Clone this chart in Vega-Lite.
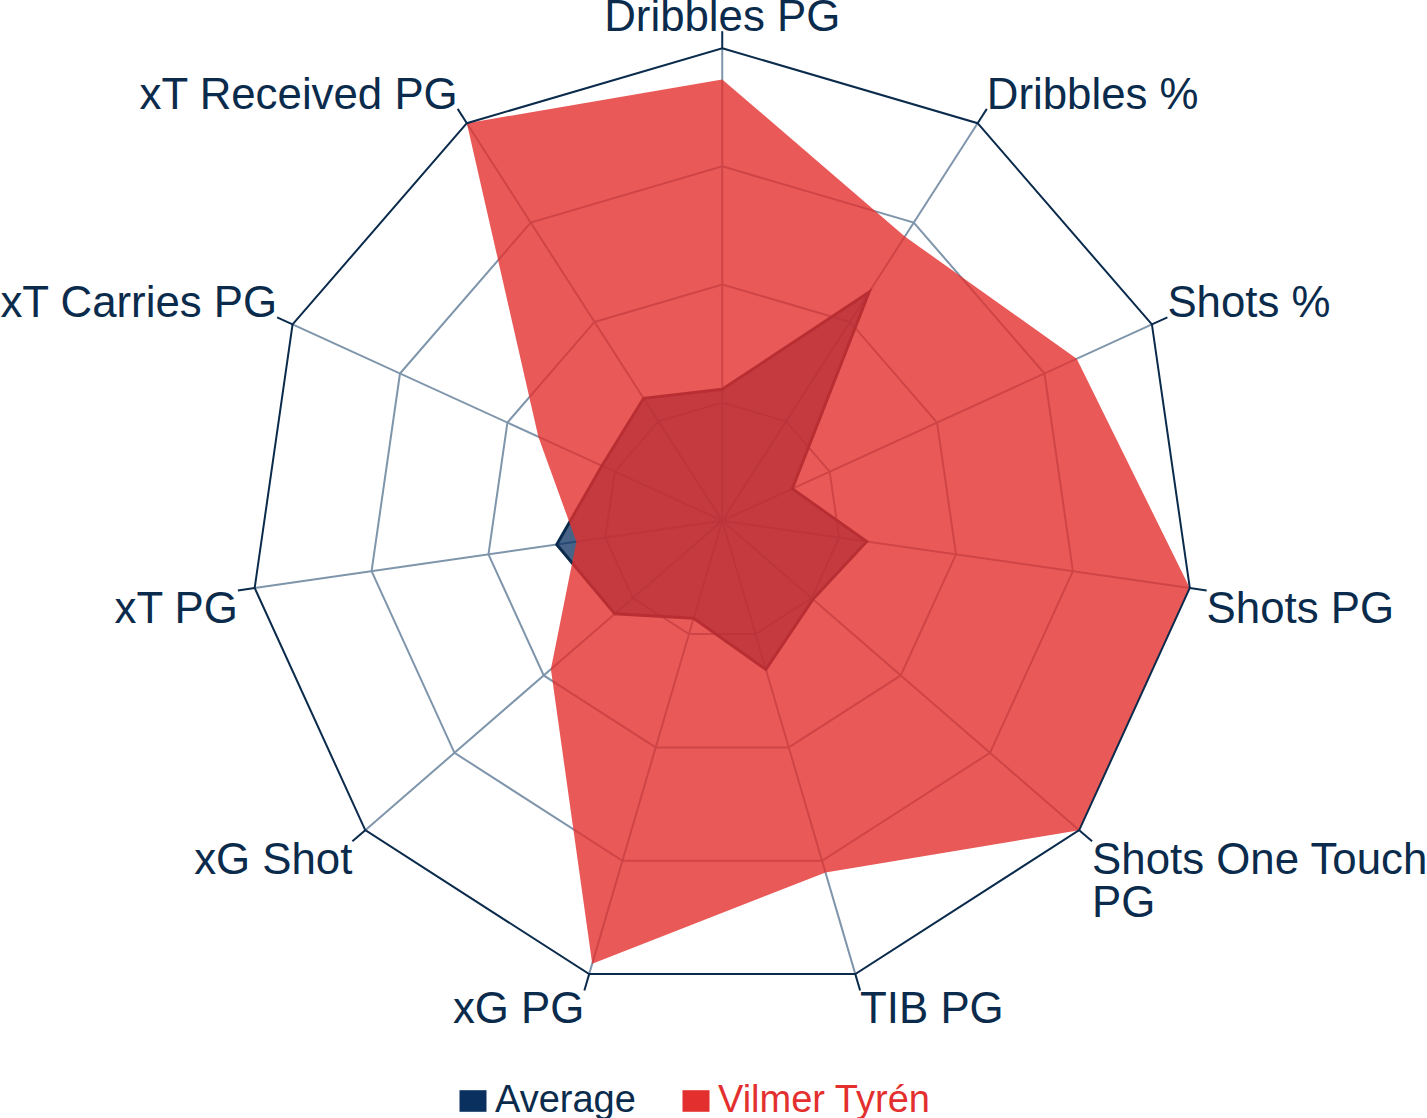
{
  "$schema": "https://vega.github.io/schema/vega-lite/v6.json",
  "description": "Radar chart: Vilmer Tyrén against the average, percentile per metric.",
  "width": 1427,
  "height": 1118,
  "autosize": {"type": "none"},
  "padding": 0,
  "config": {"view": {"stroke": null}, "font": "Liberation Sans"},
  "datasets": {
    "stats": [
      {"metric": "Dribbles PG", "Average": 27.8, "Vilmer Tyrén": 93.4},
      {"metric": "Dribbles %", "Average": 57.5, "Vilmer Tyrén": 71.5},
      {"metric": "Shots %", "Average": 16.3, "Vilmer Tyrén": 82.5},
      {"metric": "Shots PG", "Average": 30.9, "Vilmer Tyrén": 100},
      {"metric": "Shots One Touch PG", "Average": 25.4, "Vilmer Tyrén": 100},
      {"metric": "TIB PG", "Average": 32.8, "Vilmer Tyrén": 77.6},
      {"metric": "xG PG", "Average": 21.5, "Vilmer Tyrén": 97.7},
      {"metric": "xG Shot", "Average": 30.1, "Vilmer Tyrén": 48},
      {"metric": "xT PG", "Average": 35.4, "Vilmer Tyrén": 31.2},
      {"metric": "xT Carries PG", "Average": 28, "Vilmer Tyrén": 42.8},
      {"metric": "xT Received PG", "Average": 30.8, "Vilmer Tyrén": 100}
    ]
  },
  "data": {"name": "stats"},
  "transform": [
    {"window": [{"op": "row_number", "as": "idx"}]},
    {"calculate": "(datum.idx - 1) * 2 * PI / 11", "as": "angle"}
  ],
  "encoding": {
    "x": {"field": "x", "type": "quantitative", "axis": null,
          "scale": {"domain": [-152.9, 149.2], "nice": false, "zero": false}},
    "y": {"field": "y", "type": "quantitative", "axis": null,
          "scale": {"domain": [-126.4, 110.2], "nice": false, "zero": false}}
  },
  "layer": [
    {
      "transform": [
        {"calculate": "0", "as": "x"},
        {"calculate": "0", "as": "y"},
        {"calculate": "100 * sin(datum.angle)", "as": "ex"},
        {"calculate": "100 * cos(datum.angle)", "as": "ey"}
      ],
      "mark": {"type": "rule", "stroke": "#7f95ab", "strokeWidth": 2},
      "encoding": {"x2": {"field": "ex"}, "y2": {"field": "ey"}}
    },
    {
      "transform": [
        {"impute": "r", "key": "level", "keyvals": [25, 50, 75], "groupby": ["idx", "angle"], "value": 0},
        {"filter": "isValid(datum.level)"},
        {"calculate": "datum.level * sin(datum.angle)", "as": "x"},
        {"calculate": "datum.level * cos(datum.angle)", "as": "y"}
      ],
      "mark": {"type": "line", "interpolate": "linear-closed", "stroke": "#7f95ab", "strokeWidth": 2},
      "encoding": {"detail": {"field": "level"}, "order": {"field": "idx"}}
    },
    {
      "transform": [
        {"fold": ["Average", "Vilmer Tyrén"], "as": ["series", "value"]},
        {"filter": "datum.series === 'Average'"},
        {"calculate": "datum.value * sin(datum.angle)", "as": "x"},
        {"calculate": "datum.value * cos(datum.angle)", "as": "y"}
      ],
      "mark": {
        "type": "line", "interpolate": "linear-closed",
        "fill": {"expr": "(datum.series || datum.label) === 'Vilmer Tyrén' ? '#e3302f' : '#0a3060'"},
        "fillOpacity": 0.75, "strokeWidth": 3
      },
      "encoding": {
        "color": {
          "field": "series", "type": "nominal",
          "scale": {"domain": ["Average", "Vilmer Tyrén"], "range": ["#0b2b4c", "#e3302f"]},
          "legend": {
            "title": null, "orient": "none", "direction": "horizontal",
            "legendX": 454, "legendY": 1082,
            "symbolType": "M-1,-0.8H1V0.8H-1Z", "symbolSize": 729, "symbolStrokeWidth": 0,
            "symbolOpacity": 1,
            "labelColor": {"expr": "datum.label === 'Average' ? '#0b2b4c' : '#e3302f'"},
            "labelFontSize": 38, "labelFont": "Liberation Sans", "labelLimit": 400,
            "labelOffset": 3, "columnPadding": 41
          }
        },
        "order": {"field": "idx"}
      }
    },
    {
      "transform": [
        {"fold": ["Average", "Vilmer Tyrén"], "as": ["series", "value"]},
        {"filter": "datum.series === 'Vilmer Tyrén'"},
        {"calculate": "datum.value * sin(datum.angle)", "as": "x"},
        {"calculate": "datum.value * cos(datum.angle)", "as": "y"}
      ],
      "mark": {"type": "line", "interpolate": "linear-closed", "fill": "#e3302d", "fillOpacity": 0.8, "strokeOpacity": 0},
      "encoding": {
        "color": {"field": "series", "type": "nominal"},
        "order": {"field": "idx"}
      }
    },
    {
      "transform": [
        {"calculate": "100 * sin(datum.angle)", "as": "x"},
        {"calculate": "100 * cos(datum.angle)", "as": "y"}
      ],
      "mark": {"type": "line", "interpolate": "linear-closed", "stroke": "#0b2b4c", "strokeWidth": 2},
      "encoding": {"order": {"field": "idx"}}
    },
    {
      "transform": [
        {"calculate": "100 * sin(datum.angle)", "as": "x"},
        {"calculate": "100 * cos(datum.angle)", "as": "y"},
        {"calculate": "103.6 * sin(datum.angle)", "as": "ex"},
        {"calculate": "103.6 * cos(datum.angle)", "as": "ey"}
      ],
      "mark": {"type": "rule", "stroke": "#0b2b4c", "strokeWidth": 2},
      "encoding": {"x2": {"field": "ex"}, "y2": {"field": "ey"}}
    },
    {
      "transform": [
        {"filter": "datum.idx === 1"},
        {"calculate": "103.6 * sin(datum.angle)", "as": "x"},
        {"calculate": "103.6 * cos(datum.angle)", "as": "y"}
      ],
      "mark": {"type": "text", "align": "center", "baseline": "alphabetic", "fontSize": 43.8, "fill": "#0b2b4c"},
      "encoding": {"text": {"field": "metric"}}
    },
    {
      "transform": [
        {"filter": "datum.idx === 2 || datum.idx === 3"},
        {"calculate": "103.6 * sin(datum.angle)", "as": "x"},
        {"calculate": "103.6 * cos(datum.angle)", "as": "y"}
      ],
      "mark": {"type": "text", "align": "left", "baseline": "alphabetic", "fontSize": 43.8, "fill": "#0b2b4c"},
      "encoding": {"text": {"field": "metric"}}
    },
    {
      "transform": [
        {"filter": "datum.idx >= 4 && datum.idx <= 6"},
        {"calculate": "103.6 * sin(datum.angle)", "as": "x"},
        {"calculate": "103.6 * cos(datum.angle)", "as": "y"},
        {"calculate": "replace(datum.metric, 'Touch ', 'Touch\\n')", "as": "label"}
      ],
      "mark": {"type": "text", "align": "left", "baseline": "top", "dy": -2, "fontSize": 43.8, "lineHeight": 43, "lineBreak": "\n", "fill": "#0b2b4c"},
      "encoding": {"text": {"field": "label"}}
    },
    {
      "transform": [
        {"filter": "datum.idx >= 7 && datum.idx <= 9"},
        {"calculate": "103.6 * sin(datum.angle)", "as": "x"},
        {"calculate": "103.6 * cos(datum.angle)", "as": "y"}
      ],
      "mark": {"type": "text", "align": "right", "baseline": "top", "dy": -2, "fontSize": 43.8, "fill": "#0b2b4c"},
      "encoding": {"text": {"field": "metric"}}
    },
    {
      "transform": [
        {"filter": "datum.idx >= 10"},
        {"calculate": "103.6 * sin(datum.angle)", "as": "x"},
        {"calculate": "103.6 * cos(datum.angle)", "as": "y"}
      ],
      "mark": {"type": "text", "align": "right", "baseline": "alphabetic", "fontSize": 43.8, "fill": "#0b2b4c"},
      "encoding": {"text": {"field": "metric"}}
    }
  ]
}
